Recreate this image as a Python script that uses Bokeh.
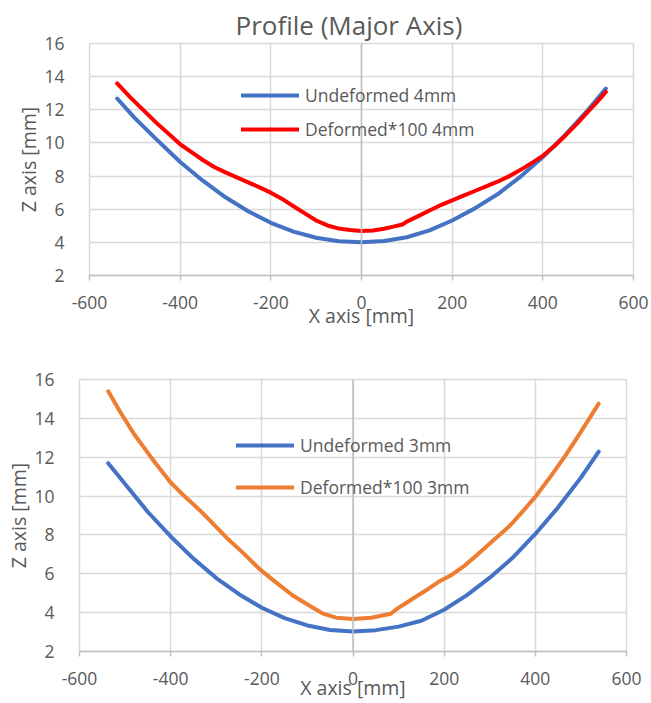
from bokeh.plotting import figure
from bokeh.models import Range1d, FixedTicker, Span, Legend, LegendItem
from bokeh.embed import file_html
from bokeh.resources import INLINE

# ---- data -------------------------------------------------------------
x_ticks = [-600, -400, -200, 0, 200, 400, 600]
z_ticks = [2, 4, 6, 8, 10, 12, 14, 16]
x_tick_text = {-600: "-600", -400: "-400", -200: "-200"}

# 4 mm profile
x_undeformed_4mm = [-539, -500, -450, -400, -350, -300, -250, -200, -150, -100, -50, 0,
                    50, 100, 150, 200, 250, 300, 350, 400, 450, 500, 539]
z_undeformed_4mm = [12.68, 11.50, 10.15, 8.85, 7.72, 6.72, 5.88, 5.18, 4.65, 4.28, 4.07, 4.01,
                    4.08, 4.31, 4.72, 5.32, 6.05, 6.90, 7.95, 9.15, 10.50, 12.00, 13.28]

x_deformed_4mm = [-539, -510, -480, -450, -420, -400, -375, -350, -325, -300, -275, -250,
                  -225, -200, -175, -150, -125, -100, -75, -50, -25, 0, 25, 50, 75, 90,
                  100, 125, 150, 175, 200, 225, 250, 275, 300, 325, 350, 375, 400, 425,
                  450, 475, 500, 520, 539]
z_deformed_4mm = [13.59, 12.75, 11.95, 11.15, 10.42, 9.92, 9.45, 8.97, 8.55, 8.22, 7.92, 7.62,
                  7.32, 7.00, 6.62, 6.18, 5.75, 5.32, 5.02, 4.83, 4.74, 4.69, 4.72, 4.82, 4.98, 5.08,
                  5.25, 5.58, 5.92, 6.25, 6.53, 6.82, 7.10, 7.38, 7.66, 7.98, 8.36, 8.78, 9.22, 9.80,
                  10.45, 11.15, 11.90, 12.48, 13.08]

# 3 mm profile
x_undeformed_3mm = [-537, -500, -450, -400, -350, -300, -250, -200, -150, -100, -50, 0,
                    50, 100, 150, 200, 250, 300, 350, 400, 450, 500, 539]
z_undeformed_3mm = [11.69, 10.62, 9.18, 7.92, 6.78, 5.78, 4.95, 4.25, 3.72, 3.34, 3.11, 3.03,
                    3.10, 3.28, 3.58, 4.15, 4.90, 5.80, 6.82, 8.05, 9.42, 10.95, 12.29]

x_deformed_3mm = [-537, -510, -480, -440, -400, -370, -333, -305, -278, -240, -205, -169,
                  -132, -96, -66, -37, 0, 40, 83, 98, 120, 142, 165, 186, 215, 245, 272,
                  305, 343, 370, 401, 435, 467, 500, 539]
z_deformed_3mm = [15.39, 14.30, 13.18, 11.90, 10.70, 10.00, 9.20, 8.53, 7.87, 7.05, 6.24, 5.56,
                  4.88, 4.37, 3.95, 3.74, 3.67, 3.74, 3.94, 4.22, 4.55, 4.88, 5.22, 5.56, 5.92,
                  6.42, 6.97, 7.66, 8.45, 9.15, 9.99, 11.05, 12.12, 13.30, 14.76]

# ---- styling ----------------------------------------------------------
FONT = "Open Sans"
TEXT = "#595959"
GRID = "#d9d9d9"
AXIS = "#bfbfbf"
BLUE = "#4472c4"
RED = "#ff0000"
ORANGE = "#ed7d31"


def profile_plot(height, borders, xlabel_standoff, title=None):
    left, right, top, bottom = borders
    p = figure(width=651, height=height, title=title,
               x_range=Range1d(-600, 600), y_range=Range1d(2, 16),
               output_backend="svg", toolbar_location=None,
               min_border_left=left, min_border_right=right,
               min_border_top=top, min_border_bottom=bottom)
    p.outline_line_color = GRID
    p.outline_line_width = 1.5

    for ax in (p.xaxis, p.yaxis):
        ax.major_label_text_font = FONT
        ax.major_label_text_font_size = "17.5px"
        ax.major_label_text_color = TEXT
        ax.axis_label_text_font = FONT
        ax.axis_label_text_font_size = "19.5px"
        ax.axis_label_text_font_style = "normal"
        ax.axis_label_text_color = TEXT
        ax.minor_tick_line_color = None

    p.xaxis.ticker = FixedTicker(ticks=x_ticks)
    p.xaxis.major_label_overrides = x_tick_text
    p.xaxis.axis_label = "X axis [mm]"
    p.xaxis.axis_line_color = AXIS
    p.xaxis.axis_line_width = 1.5
    p.xaxis.major_tick_line_color = AXIS
    p.xaxis.major_tick_line_width = 1.5
    p.xaxis.major_tick_out = 5
    p.xaxis.major_tick_in = 0
    p.xaxis.major_label_standoff = 15
    p.xaxis.axis_label_standoff = xlabel_standoff

    p.yaxis.ticker = FixedTicker(ticks=z_ticks)
    p.yaxis.axis_label = "Z axis [mm]"
    p.yaxis.axis_line_color = None
    p.yaxis.major_tick_line_color = None
    p.yaxis.major_label_standoff = 19
    p.yaxis.axis_label_standoff = -1

    p.xgrid.ticker = FixedTicker(ticks=x_ticks)
    p.ygrid.ticker = FixedTicker(ticks=z_ticks)
    for g in (p.xgrid, p.ygrid):
        g.grid_line_color = GRID
        g.grid_line_width = 1.5

    # vertical axis crossing at x = 0
    p.add_layout(Span(location=0, dimension="height", line_color=AXIS, line_width=1.5))
    return p


def add_series(p, xs, zs, color):
    return p.line(xs, zs, line_color=color, line_width=4,
                  line_join="round", line_cap="round")


def add_legend(p, items, loc, spacing):
    legend = Legend(items=[LegendItem(label=lbl, renderers=[r]) for lbl, r in items],
                    location=loc, orientation="vertical",
                    background_fill_alpha=0, border_line_alpha=0,
                    padding=0, margin=0, spacing=spacing,
                    glyph_width=58, glyph_height=20, label_height=20,
                    label_standoff=6, label_text_font=FONT,
                    label_text_font_size="17.5px", label_text_color=TEXT)
    p.add_layout(legend)


# top chart: 4 mm
top = profile_plot(340, (89, 18, 43, 65), -10, title="Profile (Major Axis)")
top.title.align = "left"
top.title.offset = 146
top.title.standoff = 1
top.title.text_font = FONT
top.title.text_font_size = "26px"
top.title.text_font_style = "normal"
top.title.text_color = TEXT
r1 = add_series(top, x_undeformed_4mm, z_undeformed_4mm, BLUE)
r2 = add_series(top, x_deformed_4mm, z_deformed_4mm, RED)
add_legend(top, [("Undeformed 4mm", r1), ("Deformed*100 4mm", r2)], (152, 134), 10)

# bottom chart: 3 mm
bottom = profile_plot(363, (79, 25, 39, 50), -14)
r3 = add_series(bottom, x_undeformed_3mm, z_undeformed_3mm, BLUE)
r4 = add_series(bottom, x_deformed_3mm, z_deformed_3mm, ORANGE)
add_legend(bottom, [("Undeformed 3mm", r3), ("Deformed*100 3mm", r4)], (157, 152), 18)

# two independent roots, stacked on the page
open("out.html", "w").write(file_html([top, bottom], INLINE))
